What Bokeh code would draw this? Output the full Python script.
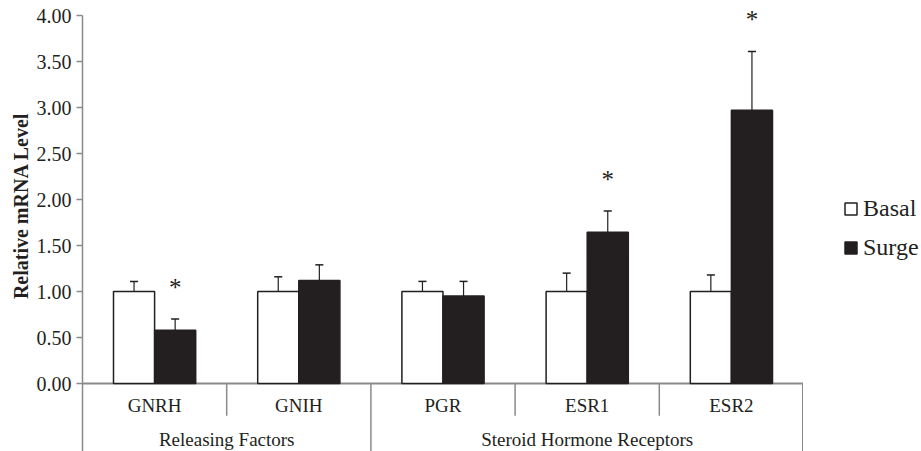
from bokeh.plotting import figure
from bokeh.layouts import row
from bokeh.models import (FactorRange, Range1d, FixedTicker, NumeralTickFormatter,
                          ColumnDataSource, Span, Legend, LegendItem, Title)
from bokeh.transform import dodge
from bokeh.core.properties import value
from bokeh.embed import file_html
from bokeh.resources import INLINE

# ---- data ----
genes = ["GNRH", "GNIH", "PGR", "ESR1", "ESR2"]
groups = ["Releasing Factors", "Releasing Factors", "Steroid Hormone Receptors",
          "Steroid Hormone Receptors", "Steroid Hormone Receptors"]
basal = [1.00, 1.00, 1.00, 1.00, 1.00]
basal_err = [0.11, 0.16, 0.11, 0.20, 0.18]
surge = [0.58, 1.12, 0.95, 1.645, 2.97]
surge_err = [0.12, 0.17, 0.16, 0.23, 0.64]
significant = [True, False, False, True, True]
y_ticks = [0.0, 0.5, 1.0, 1.5, 2.0, 2.5, 3.0, 3.5, 4.0]
series_names = ["Basal", "Surge"]

# ---- styles ----
FONT = "Liberation Serif"
INK = "#231f20"
AXIS = "#8a8a8a"
BW = 0.285
OFF = BW / 2
CAP = 0.028
Y_MIN = -0.739
Y_MAX = 4.12

p = figure(x_range=FactorRange(*genes, range_padding=0), y_range=Range1d(Y_MIN, Y_MAX),
           width=803, height=451, output_backend="svg", toolbar_location=None,
           x_axis_location=None, min_border_left=82, min_border_right=0,
           min_border_top=4, min_border_bottom=0)
p.outline_line_color = None
p.grid.visible = False
p.background_fill_color = "white"

src = ColumnDataSource(dict(
    gene=genes, basal=basal, surge=surge,
    basal_top=[v + e for v, e in zip(basal, basal_err)],
    surge_top=[v + e for v, e in zip(surge, surge_err)],
))

zero = Span(location=0, dimension="width", line_color=AXIS, line_width=2, level="underlay")
p.add_layout(zero)

basal_style = dict(fill_color="white", line_color=INK, line_width=1.5)
surge_style = dict(fill_color=INK, line_color=INK, line_width=1.5)

p.vbar(x=dodge("gene", -OFF, range=p.x_range), top="basal", bottom=0, width=BW,
       source=src, **basal_style)
p.vbar(x=dodge("gene", OFF, range=p.x_range), top="surge", bottom=0, width=BW,
       source=src, **surge_style)

# error bars (upper only)
for off, lo, hi in ((-OFF, "basal", "basal_top"), (OFF, "surge", "surge_top")):
    p.segment(x0=dodge("gene", off, range=p.x_range), x1=dodge("gene", off, range=p.x_range),
              y0=lo, y1=hi, source=src, line_color=INK, line_width=1.2)
    p.segment(x0=dodge("gene", off - CAP, range=p.x_range), x1=dodge("gene", off + CAP, range=p.x_range),
              y0=hi, y1=hi, source=src, line_color=INK, line_width=1.5)

# significance stars
sig_src = ColumnDataSource(dict(
    gene=[g for g, s in zip(genes, significant) if s],
    top=[v + e for v, e, s in zip(surge, surge_err, significant) if s],
    star=["*" for s in significant if s],
))
p.text(x=dodge("gene", OFF, range=p.x_range), y="top", text="star", source=sig_src,
       text_font=value(FONT), text_font_size="25px", text_color=INK,
       text_align="center", text_baseline="alphabetic", y_offset=-32)

# category labels
p.text(x="gene", y=0, text="gene", source=src, text_font=value(FONT),
       text_font_size="19px", text_color=INK, text_align="center",
       text_baseline="middle", y_offset=22)

# group labels: centre of each group's span
for g in dict.fromkeys(groups):
    idx = [i for i, gg in enumerate(groups) if gg == g]
    first, last = idx[0], idx[-1]
    p.text(x=dodge("gene", (last - first) / 2.0, range=p.x_range), y=0, text="name",
           source=ColumnDataSource(dict(name=[g], gene=[genes[first]])),
           text_font=value(FONT), text_font_size="19px", text_color=INK,
           text_align="center", text_baseline="middle", y_offset=56)

# dividers below baseline
dx, dy1 = [], []
for i in range(1, len(genes)):
    dx.append(genes[i])
    dy1.append(Y_MIN if groups[i] != groups[i - 1] else -0.35)
div_src = ColumnDataSource(dict(gene=dx, y1=dy1))
p.segment(x0=dodge("gene", -0.5, range=p.x_range), x1=dodge("gene", -0.5, range=p.x_range),
          y0=0, y1="y1", source=div_src, line_color=AXIS, line_width=1.5)
end_src = ColumnDataSource(dict(gene=[genes[-1]], y1=[Y_MIN]))
p.segment(x0=dodge("gene", 0.5, range=p.x_range), x1=dodge("gene", 0.5, range=p.x_range),
          y0=0, y1="y1", source=end_src, line_color=AXIS, line_width=3)

# y axis
ax = p.yaxis[0]
ax.ticker = FixedTicker(ticks=y_ticks)
ax.bounds = (Y_MIN, y_ticks[-1])
ax.formatter = NumeralTickFormatter(format="0.00")
ax.axis_line_color = AXIS
ax.axis_line_width = 1.5
ax.major_tick_line_color = AXIS
ax.major_tick_line_width = 1.5
ax.major_tick_out = 6
ax.major_tick_in = 0
ax.minor_tick_line_color = None
ax.major_label_text_font = FONT
ax.major_label_text_font_size = "20px"
ax.major_label_text_color = INK
ax.major_label_standoff = 5

ylab = Title(text="Relative mRNA Level", align="right", offset=108,
             text_font=FONT, text_font_size="20px", text_font_style="bold",
             text_color=INK, standoff=4)
p.add_layout(ylab, "left")

# ---- legend panel ----
pl = figure(width=118, height=451, output_backend="svg", toolbar_location=None,
            x_axis_location=None, y_axis_location=None,
            x_range=Range1d(0, 1), y_range=Range1d(0, 1),
            min_border_left=0, min_border_right=0, min_border_top=0, min_border_bottom=0)
pl.outline_line_color = None
pl.grid.visible = False
nan = float("nan")
lb = pl.rect(x=[nan], y=[nan], width=1, height=1, **basal_style)
ls = pl.rect(x=[nan], y=[nan], width=1, height=1, **surge_style)
legend = Legend(items=[LegendItem(label=series_names[0], renderers=[lb]),
                       LegendItem(label=series_names[1], renderers=[ls])],
                location=(40, 190), orientation="vertical",
                glyph_width=15, glyph_height=15, label_standoff=5, spacing=12,
                padding=0, margin=0, border_line_color=None, background_fill_alpha=0,
                label_text_font=FONT, label_text_font_size="24px", label_text_color=INK)
pl.add_layout(legend, "center")

layout = row(p, pl, spacing=0)
open("out.html", "w").write(file_html(layout, INLINE))
